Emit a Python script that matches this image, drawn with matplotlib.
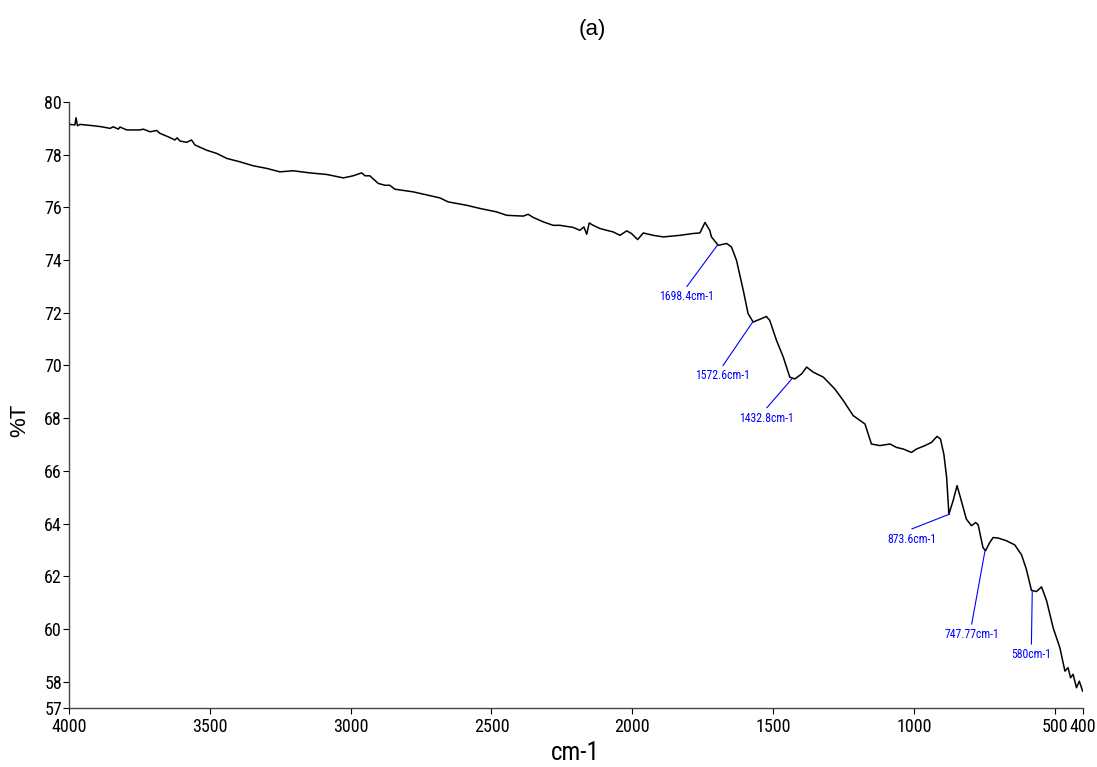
import matplotlib
matplotlib.use('Agg')
import matplotlib.pyplot as plt
from matplotlib import font_manager

# FTIR spectrum (a)
wavenumber = [3996, 3979, 3975, 3970, 3961, 3914, 3884, 3854, 3843, 3825, 3819, 3795,
              3748, 3736, 3712, 3689, 3677, 3648, 3624, 3616, 3606, 3582, 3565, 3553,
              3511, 3476, 3440, 3393, 3346, 3298, 3251, 3204, 3145, 3085, 3026, 2991,
              2961, 2949, 2932, 2902, 2878, 2861, 2843, 2778, 2683, 2654, 2588, 2541,
              2482, 2446, 2387, 2370, 2352, 2316, 2281, 2257, 2210, 2186, 2172, 2162,
              2153, 2139, 2115, 2091, 2068, 2044, 2020, 2003, 1981, 1961, 1926, 1890,
              1831, 1784, 1760, 1742, 1725, 1719, 1695, 1665, 1648, 1630, 1606, 1589,
              1571, 1541, 1524, 1512, 1488, 1464, 1441, 1423, 1399, 1381, 1358, 1322,
              1281, 1251, 1216, 1174, 1151, 1121, 1085, 1062, 1038, 1009, 991, 961,
              938, 918, 906, 894, 884, 876, 861, 847, 832, 814, 796, 781, 772, 755,
              746, 731, 719, 701, 672, 642, 618, 601, 583, 565, 547, 529, 506, 482,
              464, 453, 444, 435, 423, 413, 401]
transmittance = [79.15, 79.13, 79.40, 79.10, 79.15, 79.10, 79.06, 79.00, 79.06, 78.97, 79.05, 78.94,
                 78.94, 78.97, 78.87, 78.92, 78.81, 78.68, 78.56, 78.64, 78.52, 78.47, 78.56, 78.37,
                 78.17, 78.05, 77.86, 77.73, 77.58, 77.48, 77.35, 77.39, 77.31, 77.25, 77.12, 77.20,
                 77.31, 77.20, 77.20, 76.91, 76.84, 76.84, 76.69, 76.59, 76.36, 76.21, 76.08, 75.96,
                 75.83, 75.70, 75.67, 75.74, 75.62, 75.45, 75.32, 75.32, 75.24, 75.13, 75.26, 74.98,
                 75.41, 75.32, 75.20, 75.13, 75.07, 74.94, 75.11, 75.01, 74.78, 75.03, 74.94, 74.88,
                 74.94, 75.01, 75.03, 75.43, 75.13, 74.88, 74.56, 74.63, 74.50, 73.99, 72.85, 71.97,
                 71.65, 71.78, 71.86, 71.71, 70.95, 70.32, 69.56, 69.49, 69.68, 69.94, 69.75, 69.56,
                 69.11, 68.67, 68.10, 67.78, 67.02, 66.96, 67.02, 66.89, 66.83, 66.70, 66.83, 66.96,
                 67.08, 67.31, 67.21, 66.64, 65.75, 64.36, 64.87, 65.44, 64.87, 64.17, 63.92, 64.04, 63.95, 63.09,
                 62.97, 63.28, 63.47, 63.45, 63.35, 63.19, 62.81, 62.27, 61.47, 61.42, 61.60, 61.07, 60.05, 59.29,
                 58.40, 58.53, 58.15, 58.28, 57.77, 58.02, 57.64]

# labelled bands
peak_x = [1698.4, 1572.6, 1432.8, 873.6, 747.77, 580]
peak_y = [74.56, 71.65, 69.50, 64.36, 62.97, 61.45]
peak_labels = ['1698.4cm-1', '1572.6cm-1', '1432.8cm-1', '873.6cm-1', '747.77cm-1', '580cm-1']
# where the blue leader lines end (label sits just under)
leader_x = [1806, 1678, 1522, 1007, 795, 583]
leader_y = [73.0, 70.0, 68.4, 63.8, 60.19, 59.43]

xticks = [4000, 3500, 3000, 2500, 2000, 1500, 1000, 500, 400]
yticks = [57, 58, 60, 62, 64, 66, 68, 70, 72, 74, 76, 78, 80]

plt.rcParams['font.family'] = ['Liberation Sans', 'DejaVu Sans']

# look for a narrow sans font (the original uses an Arial Narrow look)
narrow_file = None
for pref in ['Liberation Sans Narrow', 'Roboto Condensed', 'Open Sans Condensed', 'Noto Sans', 'DejaVu Sans']:
    for f in font_manager.fontManager.ttflist:
        if f.name != pref or f.style != 'normal' or f.weight not in (400, 'normal', 'regular'):
            continue
        if pref.endswith(('Narrow', 'Condensed')) or str(f.stretch) in ('condensed', 'semi-condensed', 'extra-condensed', '75', '87.5', '62.5'):
            narrow_file = f.fname
            break
    if narrow_file:
        break

if narrow_file:
    def nfont(size):
        return font_manager.FontProperties(fname=narrow_file, size=size)
    tick_size, note_size, xl_size = 13, 8.5, 18
else:
    def nfont(size):
        return font_manager.FontProperties(family='Liberation Sans', size=size)
    tick_size, note_size, xl_size = 11.5, 7.5, 16

fig = plt.figure(figsize=(10.97, 7.67), dpi=100)
ax = fig.add_axes([0.0629, 0.0769, 0.9243, 0.7901])

ax.plot(wavenumber, transmittance, color='black', lw=1.1)

for px, py, lx, ly, txt in zip(peak_x, peak_y, leader_x, leader_y, peak_labels):
    ax.plot([px, lx], [py, ly], color='blue', lw=0.8)
    ax.text(lx, ly - 0.15, txt, color='blue', fontproperties=nfont(note_size), ha='center', va='top')

ax.set_xlim(4000, 400)
ax.set_ylim(57, 80)
ax.set_xticks(xticks)
ax.set_yticks(yticks)
ax.tick_params(length=4, width=0.8, pad=1)
ax.tick_params(axis='x', pad=3)
for lbl in ax.get_xticklabels() + ax.get_yticklabels():
    lbl.set_fontproperties(nfont(tick_size))
ax.spines['top'].set_visible(False)
ax.spines['right'].set_visible(False)
for s in ['left', 'bottom']:
    ax.spines[s].set_color('#444444')
    ax.spines[s].set_linewidth(1.0)

fig.text(0.54, 0.961, '(a)', fontsize=16, ha='center', va='center')
fig.text(0.018, 0.452, '%T', fontsize=16, rotation=90, ha='center', va='center')
fig.text(0.524, 0.018, 'cm-1', fontproperties=nfont(xl_size), ha='center', va='center')

fig.savefig('out.png', dpi=100)
